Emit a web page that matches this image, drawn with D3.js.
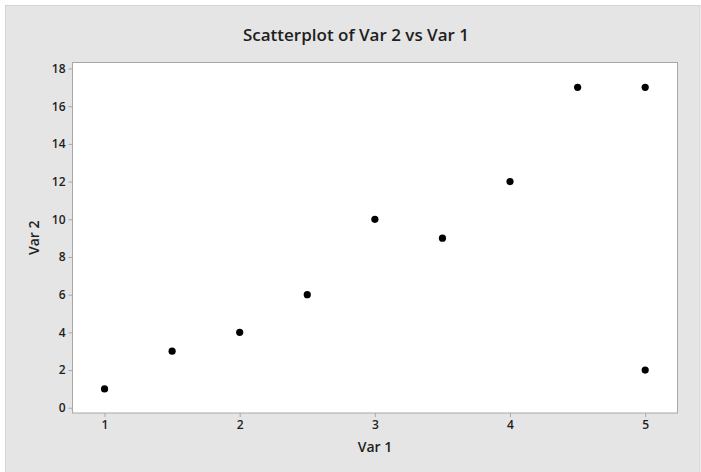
<!DOCTYPE html>
<html><head><meta charset="utf-8">
<script src="https://cdn.jsdelivr.net/npm/d3@7"></script>
<style>
body{margin:0;background:#fff;}
text{font-family:"Open Sans",sans-serif;fill:#1e1e1e;}
</style></head>
<body>
<svg id="c" width="701" height="472"></svg>
<script>
const var1 = [1, 1.5, 2, 2.5, 3, 3.5, 4, 4.5, 5, 5];
const var2 = [1, 3, 4, 6, 10, 9, 12, 17, 17, 2];
const xTicks = [1, 2, 3, 4, 5];
const yTicks = [0, 2, 4, 6, 8, 10, 12, 14, 16, 18];
const title = "Scatterplot of Var 2 vs Var 1";
const xLabel = "Var 1";
const yLabel = "Var 2";

const svg = d3.select("#c");
const W = 701, H = 472;
const L = 72.5, R = 677.5, T = 62.5, B = 413;

svg.append("rect").attr("x",5.5).attr("y",5.5).attr("width",694.5).attr("height",470)
  .attr("fill","#e5e5e5").attr("stroke","#d4d4d4");

const x = d3.scaleLinear().domain([0.763, 5.239]).range([L, R]);
const y = d3.scaleLinear().domain([-0.28, 18.32]).range([B, T]);

svg.append("rect").attr("x",L).attr("y",T).attr("width",R-L).attr("height",B-T)
  .attr("fill","#fff").attr("stroke","#a8a8a8").attr("stroke-width",1);

const xAxis = svg.append("g").attr("transform",`translate(0,${B})`)
  .call(d3.axisBottom(x).tickValues(xTicks).tickFormat(d3.format("d")).tickSize(4).tickPadding(3));
const yAxis = svg.append("g").attr("transform",`translate(${L},0)`)
  .call(d3.axisLeft(y).tickValues(yTicks).tickFormat(d3.format("d")).tickSize(4).tickPadding(3));
[xAxis,yAxis].forEach(g=>{
  g.select(".domain").remove();
  g.selectAll(".tick line").attr("stroke","#a8a8a8");
  g.selectAll(".tick text").attr("font-size",12).attr("font-weight",600)
    .attr("font-family","'Open Sans',sans-serif").attr("fill","#1e1e1e");
});

svg.append("g").selectAll("circle").data(var1.map((v,i)=>[v,var2[i]])).join("circle")
  .attr("cx",d=>x(d[0])).attr("cy",d=>y(d[1])).attr("r",3.6).attr("fill","#000");

svg.append("text").attr("x",356).attr("y",41).attr("text-anchor","middle")
  .attr("font-size",17).attr("font-weight",600).text(title);
svg.append("text").attr("x",(L+R)/2).attr("y",452).attr("text-anchor","middle")
  .attr("font-size",14).attr("font-weight",600).text(xLabel);
svg.append("text").attr("transform",`translate(39,${(T+B)/2}) rotate(-90)`).attr("text-anchor","middle")
  .attr("font-size",14).attr("font-weight",600).text(yLabel);
</script>
</body></html>
